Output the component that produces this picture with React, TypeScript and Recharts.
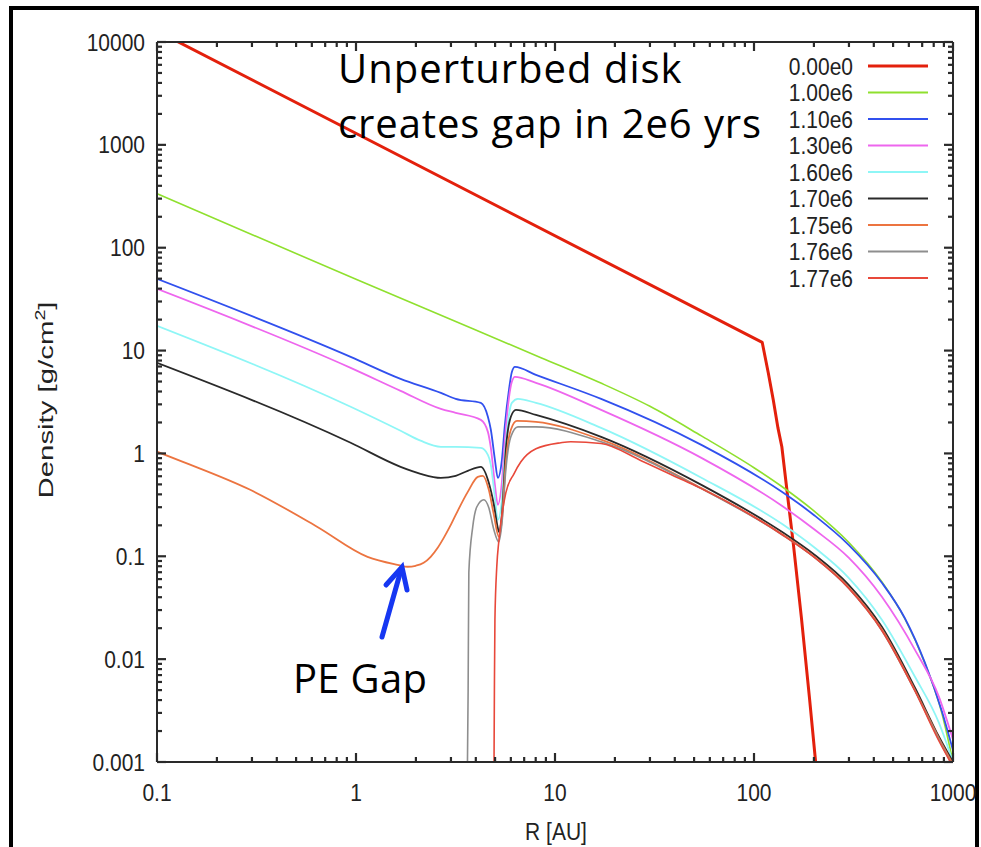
import React from 'react';
import { LineChart, Line, XAxis, YAxis, ReferenceLine } from 'recharts';

// ---- axis ticks ----
const X_MAJOR = [0.1, 1, 10, 100, 1000];
const X_LABELS = ['0.1', '1', '10', '100', '1000'];
const Y_MAJOR = [0.001, 0.01, 0.1, 1, 10, 100, 1000, 10000];
const Y_LABELS = ['0.001', '0.01', '0.1', '1', '10', '100', '1000', '10000'];
const MINOR_MULTS = [2, 3, 4, 5, 6, 7, 8, 9];

// ---- series data: [R (AU), density (g/cm^2)] ----
const S_000E0: [number, number][] = [
  [0.1, 12800], [110, 12], [118, 6.06], [125, 3.31], [132, 1.76], [138, 1.16], [148, 0.367], [158, 0.127],
  [173, 0.0255], [190, 0.0042], [204, 0.001], [207, 0.0007],
];
const S_100E6: [number, number][] = [
  [0.1, 335], [1, 49.3], [8.5, 8.53], [17, 4.83], [30, 2.87], [54.4, 1.48], [100, 0.726], [138, 0.477],
  [202, 0.272], [299, 0.137], [439, 0.0565], [573, 0.0247], [723, 0.0091], [880, 0.00296], [1000, 0.001],
];
const S_110E6: [number, number][] = [
  [0.1, 49.8], [0.94, 8.69], [1.675, 5.31], [2.67, 3.88], [3.17, 3.39], [4.24, 3.1], [4.6, 2.27], [4.76, 1.7],
  [4.99, 0.867], [5.16, 0.579], [5.41, 0.867], [5.6, 1.9], [5.87, 4.15], [6.07, 6.2], [6.29, 6.94], [8.02, 5.81],
  [17.05, 3.39], [54.4, 1.21], [138, 0.423], [202, 0.248], [299, 0.129], [439, 0.0553], [573, 0.025],
  [723, 0.0092], [880, 0.0031], [1000, 0.0013],
];
const S_130E6: [number, number][] = [
  [0.1, 39.8], [0.94, 6.79], [1.675, 4.06], [2.67, 2.71], [3.17, 2.48], [4.24, 2.12], [4.6, 1.62], [4.76, 1.13],
  [4.99, 0.495], [5.16, 0.317], [5.41, 0.53], [5.6, 1.36], [5.87, 3.47], [6.07, 4.97], [6.29, 5.55], [8.02, 4.86],
  [17.05, 2.65], [54.4, 0.905], [138, 0.31], [202, 0.181], [299, 0.097], [439, 0.0404], [644, 0.0123],
  [850, 0.0043], [1000, 0.00165],
];
const S_160E6: [number, number][] = [
  [0.1, 17.4], [0.94, 2.84], [1.675, 1.66], [2.11, 1.33], [2.67, 1.16], [3.17, 1.16], [4.24, 1.13], [4.6, 0.969],
  [4.76, 0.775], [4.99, 0.37], [5.16, 0.226], [5.41, 0.354], [5.6, 0.969], [5.87, 2.37], [6.07, 3.1], [6.51, 3.39],
  [8.02, 3.1], [17.05, 1.77], [54.4, 0.58], [138, 0.207], [202, 0.121], [299, 0.0618], [439, 0.0242],
  [644, 0.00674], [850, 0.0024], [1000, 0.001],
];
const S_170E6: [number, number][] = [
  [0.1, 7.6], [0.94, 1.27], [1.675, 0.741], [2.11, 0.634], [2.67, 0.579], [3.17, 0.606], [3.645, 0.678],
  [4.24, 0.741], [4.65, 0.518], [4.93, 0.317], [5.16, 0.189], [5.22, 0.173], [5.41, 0.253], [5.66, 1.08],
  [6.0, 2.27], [6.36, 2.65], [8.02, 2.37], [17.05, 1.45], [54.4, 0.495], [138, 0.173], [202, 0.103],
  [299, 0.0528], [439, 0.0206], [644, 0.00527], [850, 0.00176], [1000, 0.001],
];
const S_175E6: [number, number][] = [
  [0.1, 1.04], [0.135, 0.829], [0.294, 0.443], [0.64, 0.193], [1.143, 0.0988], [1.618, 0.0827], [1.817, 0.0791],
  [1.994, 0.0809], [2.188, 0.0865], [2.373, 0.0989], [2.574, 0.121], [2.76, 0.151], [2.958, 0.193],
  [3.17, 0.253], [3.645, 0.423], [4.094, 0.592], [4.34, 0.606], [4.65, 0.443],
  [4.93, 0.253], [5.22, 0.155], [5.41, 0.226], [5.66, 0.829], [6.0, 1.7], [6.44, 2.07], [8.02, 2.03],
  [17.05, 1.36], [54.4, 0.46], [138, 0.165], [202, 0.098], [299, 0.05], [439, 0.0195], [644, 0.005],
  [850, 0.0017], [1000, 0.00095],
];
const S_176E6: [number, number][] = [
  [3.62, 0.0005], [3.66, 0.005], [3.69, 0.07], [3.86, 0.193], [4.05, 0.303], [4.39, 0.354], [4.65, 0.296],
  [4.93, 0.181], [5.22, 0.138], [5.41, 0.207], [5.66, 0.693], [6.0, 1.45], [6.51, 1.81], [8.02, 1.81],
  [17.05, 1.3], [54.4, 0.455], [138, 0.163], [202, 0.097], [299, 0.049], [439, 0.019], [644, 0.0049],
  [850, 0.00165], [1000, 0.0009],
];
const S_177E6: [number, number][] = [
  [4.93, 0.0005], [4.96, 0.005], [4.99, 0.024], [5.1, 0.08], [5.22, 0.14], [5.66, 0.414], [6.22, 0.634],
  [6.74, 0.829], [8.02, 1.11], [10.7, 1.27], [12, 1.3], [17.05, 1.25], [27.1, 0.85], [43.1, 0.56],
  [54.4, 0.455], [138, 0.163], [202, 0.097], [299, 0.049], [439, 0.019], [644, 0.0049], [850, 0.0016],
  [1000, 0.0009],
];

const LEGEND_NAMES = ['0.00e0', '1.00e6', '1.10e6', '1.30e6', '1.60e6', '1.70e6', '1.75e6', '1.76e6', '1.77e6'];

const SERIES = [
  { name: LEGEND_NAMES[0], color: '#e3200c', width: 3, data: S_000E0, curve: 'linear' },
  { name: LEGEND_NAMES[1], color: '#8fe02e', width: 1.6, data: S_100E6, curve: 'monotone' },
  { name: LEGEND_NAMES[2], color: '#3150ee', width: 1.8, data: S_110E6, curve: 'monotone' },
  { name: LEGEND_NAMES[3], color: '#ee66ee', width: 1.8, data: S_130E6, curve: 'monotone' },
  { name: LEGEND_NAMES[4], color: '#8ef6f6', width: 1.8, data: S_160E6, curve: 'monotone' },
  { name: LEGEND_NAMES[5], color: '#2a2a2a', width: 1.8, data: S_170E6, curve: 'monotone' },
  { name: LEGEND_NAMES[6], color: '#ec7440', width: 1.8, data: S_175E6, curve: 'monotone' },
  { name: LEGEND_NAMES[7], color: '#8e8e8e', width: 1.6, data: S_176E6, curve: 'monotone' },
  { name: LEGEND_NAMES[8], color: '#e8483a', width: 1.6, data: S_177E6, curve: 'monotone' },
];

const minorsOf = (majors: number[]) => {
  const out: number[] = [];
  for (let i = 0; i < majors.length - 1; i++) for (const m of MINOR_MULTS) out.push(majors[i] * m);
  return out;
};
const X_MINOR = minorsOf(X_MAJOR);
const Y_MINOR = minorsOf(Y_MAJOR);

// ---- layout ----
const W = 981;
const H = 847;
const M_TOP = 42;
const M_RIGHT = 28;
const M_LEFT = 97;
const Y_AXIS_W = 60;
const X_AXIS_H = 85;
const PLOT_L = M_LEFT + Y_AXIS_W;
const PLOT_T = M_TOP;
const PLOT_W = W - M_LEFT - Y_AXIS_W - M_RIGHT;
const PLOT_H = H - M_TOP - X_AXIS_H;

const AXIS = '#2a2a2a';
const FONT = '"Liberation Sans", Arial, sans-serif';
const LBL_SIZE = 21;
const STRETCH = 1.14;
const MAJ = 9;
const MIN = 5;
const LEFT_M = 12;
const BOT_M = 10;
const TW = 2.2;
const X_MIN = X_MAJOR[0];
const X_MAX = X_MAJOR[X_MAJOR.length - 1];
const Y_MIN = Y_MAJOR[0];
const Y_MAX = Y_MAJOR[Y_MAJOR.length - 1];
const X_DEC_PX = PLOT_W / Math.log10(X_MAX / X_MIN);
const Y_DEC_PX = PLOT_H / Math.log10(Y_MAX / Y_MIN);
// axis-frame tick positions (same log mapping as the chart's axes)
const tickX = (v: number) => PLOT_L + Math.log10(v / X_MIN) * X_DEC_PX;
const tickY = (v: number) => PLOT_T + Math.log10(Y_MAX / v) * Y_DEC_PX;

function BottomLabel(props: any) {
  const x = Number(props.x);
  const y = Number(props.y);
  const i = X_MAJOR.indexOf(props.payload.value);
  if (i < 0) return null;
  return (
    <g transform={`translate(${x},${y - BOT_M + 39}) scale(1,${STRETCH})`}>
      <text x={0} y={0} textAnchor="middle" fontFamily={FONT} fontSize={LBL_SIZE} fill="#222">{X_LABELS[i]}</text>
    </g>
  );
}
function LeftLabel(props: any) {
  const x = Number(props.x);
  const y = Number(props.y);
  const i = Y_MAJOR.indexOf(props.payload.value);
  if (i < 0) return null;
  return (
    <g transform={`translate(${x},${y + 8.5}) scale(1,${STRETCH})`}>
      <text x={0} y={0} textAnchor="end" fontFamily={FONT} fontSize={LBL_SIZE} fill="#222">{Y_LABELS[i]}</text>
    </g>
  );
}

const toPts = (arr: [number, number][]) => arr.map(([x, y]) => ({ x, y }));

export default function App() {
  const legendX = 853;
  const legendY0 = 66;
  const legendDy = 26.5;
  const plotR = PLOT_L + PLOT_W;
  const plotB = PLOT_T + PLOT_H;
  const frameTicks: { k: string; x1: number; y1: number; x2: number; y2: number }[] = [];
  const addX = (v: number, len: number, k: string) => {
    const x = tickX(v);
    frameTicks.push({ k: `xb${k}`, x1: x, y1: plotB, x2: x, y2: plotB - len });
    frameTicks.push({ k: `xt${k}`, x1: x, y1: PLOT_T, x2: x, y2: PLOT_T + len });
  };
  const addY = (v: number, len: number, k: string) => {
    const y = tickY(v);
    frameTicks.push({ k: `yl${k}`, x1: PLOT_L, y1: y, x2: PLOT_L + len, y2: y });
    frameTicks.push({ k: `yr${k}`, x1: plotR, y1: y, x2: plotR - len, y2: y });
  };
  X_MAJOR.forEach((v, i) => addX(v, MAJ, `M${i}`));
  X_MINOR.forEach((v, i) => addX(v, MIN, `m${i}`));
  Y_MAJOR.forEach((v, i) => addY(v, MAJ, `M${i}`));
  Y_MINOR.forEach((v, i) => addY(v, MIN, `m${i}`));

  return (
    <div style={{ position: 'fixed', left: 0, top: 0, width: W, height: H, background: '#fff', overflow: 'hidden' }}>
      <div
        style={{
          position: 'absolute', left: 9, top: 6, width: 970, height: 900, boxSizing: 'border-box',
          borderTop: '4px solid #000', borderLeft: '4px solid #000', borderRight: '4px solid #000',
        }}
      />
      <div style={{ position: 'absolute', left: 0, top: 0 }}>
        <LineChart width={W} height={H} margin={{ top: M_TOP, right: M_RIGHT, bottom: 0, left: M_LEFT }}>
          <XAxis
            xAxisId="b" dataKey="x" type="number" scale="log" domain={[X_MIN, X_MAX]} allowDataOverflow
            ticks={X_MAJOR} interval={0} tickSize={0} tickMargin={BOT_M} height={X_AXIS_H}
            axisLine={{ stroke: AXIS, strokeWidth: 2 }} tickLine={false} tick={<BottomLabel />}
          />
          <YAxis
            yAxisId="l" type="number" scale="log" domain={[Y_MIN, Y_MAX]} allowDataOverflow
            ticks={Y_MAJOR} interval={0} tickSize={0} tickMargin={LEFT_M} width={Y_AXIS_W}
            axisLine={{ stroke: AXIS, strokeWidth: 2 }} tickLine={false} tick={<LeftLabel />}
          />
          {SERIES.map((s) => (
            <Line
              key={s.name} xAxisId="b" yAxisId="l" data={toPts(s.data)} dataKey="y" name={s.name}
              type={s.curve as any} stroke={s.color} strokeWidth={s.width} dot={false} activeDot={false}
              isAnimationActive={false} strokeLinejoin="round"
            />
          ))}
          <ReferenceLine xAxisId="b" yAxisId="l" y={Y_MAX} ifOverflow="visible" stroke={AXIS} strokeWidth={2} />
          <ReferenceLine xAxisId="b" yAxisId="l" x={X_MAX} ifOverflow="visible" stroke={AXIS} strokeWidth={2} />
        </LineChart>
      </div>
      <svg width={W} height={H} style={{ position: 'absolute', left: 0, top: 0, pointerEvents: 'none' }}>
        <g stroke={AXIS} strokeWidth={TW}>
          {frameTicks.map((t) => (
            <line key={t.k} x1={t.x1} y1={t.y1} x2={t.x2} y2={t.y2} />
          ))}
        </g>
        {SERIES.map((s, i) => {
          const y = legendY0 + i * legendDy;
          return (
            <g key={s.name}>
              <g transform={`translate(${legendX},${y + 8.5}) scale(1,${STRETCH})`}>
                <text x={0} y={0} textAnchor="end" fontFamily={FONT} fontSize={LBL_SIZE} fill="#222">{s.name}</text>
              </g>
              <line x1={868} x2={928} y1={y} y2={y} stroke={s.color} strokeWidth={i === 0 ? 3 : 2} />
            </g>
          );
        })}
        <g transform={`translate(556,840) scale(1,${STRETCH})`}>
          <text x={0} y={0} textAnchor="middle" fontFamily={FONT} fontSize={LBL_SIZE} fill="#222">R [AU]</text>
        </g>
        <g transform={`translate(53,400) rotate(-90) scale(1.4,1)`}>
          <text x={0} y={0} textAnchor="middle" fontFamily={FONT} fontSize={LBL_SIZE} fill="#222">
            Density [g/cm<tspan fontSize={14} dy={-8}>2</tspan><tspan dy={8}>]</tspan>
          </text>
        </g>
        <text x={338} y={83} fontFamily='"Open Sans", sans-serif' fontSize={40} letterSpacing={1} fill="#000">Unperturbed disk</text>
        <text x={338} y={138} fontFamily='"Open Sans", sans-serif' fontSize={40} letterSpacing={0.9} fill="#000">creates gap in 2e6 yrs</text>
        <text x={293} y={693} fontFamily='"Open Sans", sans-serif' fontSize={40} letterSpacing={0.3} fill="#000">PE Gap</text>
        <g stroke="#1637f2" strokeWidth={5} strokeLinecap="round" fill="none">
          <line x1={382} y1={637} x2={401} y2={570} />
          <polyline points="386,585 402,567 407,590" strokeLinejoin="miter" />
        </g>
      </svg>
    </div>
  );
}
